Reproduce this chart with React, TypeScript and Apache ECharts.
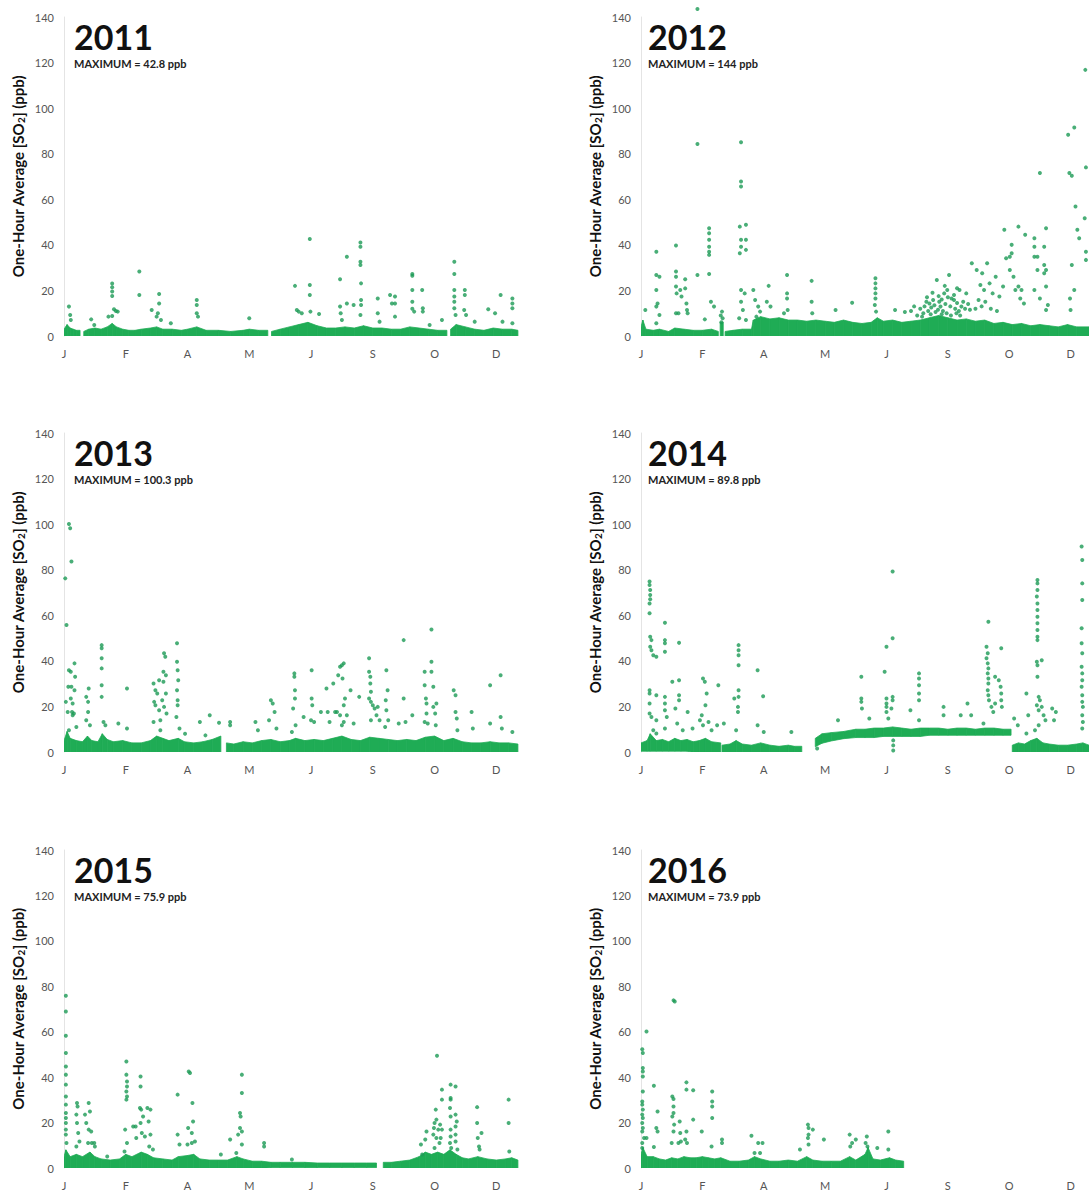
import React, { useEffect, useRef } from "react";
import * as echarts from "echarts";

// ---------- DATA ----------
const xLabels = ["J", "F", "A", "M", "J", "S", "O", "D"];
const years = ["2011", "2012", "2013", "2014", "2015", "2016"];
const maxima = ["42.8 ppb", "144 ppb", "100.3 ppb", "89.8 ppb", "75.9 ppb", "73.9 ppb"];

// x in label steps (J = 0 ... D = 7), y in ppb
const pts2011 = [
  [0.08, 12.9], [0.1, 9.2], [0.11, 7], [0.44, 7.3], [0.49, 4.8],
  [0.78, 23], [0.78, 21.4], [0.78, 19.5], [0.78, 17.6], [0.81, 11.7], [0.84, 11], [0.87, 10.7], [0.78, 8.8], [0.72, 8.5],
  [1.22, 28.3], [1.22, 18], [1.42, 11.4], [1.54, 18.4], [1.54, 14.3], [1.52, 10], [1.5, 8.5], [1.57, 7], [1.73, 5.6],
  [2.15, 15.8], [2.15, 13.6], [2.15, 10], [2.17, 8.5], [3.0, 7.8],
  [3.74, 22], [3.77, 11.4], [3.8, 10.7], [3.85, 10], [3.98, 42.6], [3.98, 22.4], [3.98, 18], [3.99, 10.7], [4.13, 9.7],
  [4.47, 24.9], [4.47, 12.9], [4.48, 10], [4.5, 7], [4.58, 34.8], [4.58, 14.3], [4.69, 13.6],
  [4.8, 41], [4.8, 39.2], [4.8, 32.6], [4.8, 31.2], [4.81, 23.1], [4.81, 15.8], [4.81, 13.6], [4.8, 9.2],
  [5.08, 16.5], [5.08, 10], [5.11, 6.3], [5.28, 18], [5.31, 14.3], [5.36, 17.3], [5.36, 14.3], [5.36, 8.5],
  [5.64, 27.2], [5.64, 26.4], [5.64, 20.2], [5.64, 15], [5.64, 12], [5.67, 10.7], [5.8, 20.2], [5.81, 12.2], [5.81, 10.7],
  [5.92, 4.8], [6.12, 7], [6.32, 32.6], [6.32, 27.2], [6.32, 20.2], [6.32, 17.3], [6.32, 15], [6.32, 12.2], [6.34, 9.2],
  [6.49, 20.2], [6.49, 18], [6.48, 11.4], [6.51, 9.2], [6.65, 6.3], [6.87, 11.7], [6.98, 10], [7.07, 18], [7.1, 6.3],
  [7.26, 16.5], [7.26, 14.3], [7.26, 12.2], [7.26, 5.6]
];
const band2011 = [
  [0, 0, 3], [0.05, 0, 5], [0.1, 0, 3.5], [0.15, 0, 3], [0.2, 0, 2.5], [0.26, 0, 2.5], null,
  [0.32, 0, 2], [0.4, 0, 3], [0.5, 0, 3.5], [0.6, 0, 3], [0.7, 0, 4], [0.78, 0, 5.5], [0.85, 0, 4], [0.95, 0, 3],
  [1.05, 0, 2.5], [1.15, 0, 2.5], [1.25, 0, 3], [1.4, 0, 3.5], [1.5, 0, 4], [1.6, 0, 3], [1.75, 0, 3], [1.9, 0, 2.5],
  [2.0, 0, 3], [2.15, 0, 4], [2.3, 0, 2.5], [2.5, 0, 2.5], [2.7, 0, 2], [2.9, 0, 2.5], [3.0, 0, 3], [3.15, 0, 2.5], [3.3, 0, 2.5], null,
  [3.36, 0, 2], [3.5, 0, 3], [3.65, 0, 4], [3.8, 0, 5], [3.95, 0, 6], [4.1, 0, 4.5], [4.25, 0, 3.5], [4.4, 0, 3.5],
  [4.55, 0, 4], [4.7, 0, 3.5], [4.85, 0, 4.5], [5.0, 0, 3.5], [5.15, 0, 3.5], [5.3, 0, 3], [5.45, 0, 3], [5.6, 0, 4],
  [5.75, 0, 3.5], [5.9, 0, 3], [6.05, 0, 2.5], [6.2, 0, 2.5], null,
  [6.26, 0, 3], [6.35, 0, 5], [6.5, 0, 4], [6.65, 0, 3], [6.8, 0, 2.5], [6.95, 0, 3.5], [7.1, 0, 3], [7.25, 0, 3], [7.35, 0, 2.5]
];

const pts2012 = [
  [0.92, 143.5], [0.92, 84.3],
  [1.63, 85], [1.63, 67.8], [1.63, 65.6], [1.61, 48], [1.71, 48.8], [1.63, 42.2], [1.71, 42.2], [1.63, 39.2], [1.71, 37.8],
  [1.61, 36.3], [1.63, 20.2], [1.69, 18.7], [1.63, 15], [1.66, 11.4], [1.71, 7], [1.6, 7.8],
  [0.25, 37], [0.25, 26.8], [0.3, 26], [0.25, 20.2], [0.27, 14.3], [0.25, 12.9], [0.3, 9.2], [0.25, 5.6], [0.07, 11.4],
  [0.57, 39.7], [0.57, 28.3], [0.57, 26], [0.57, 21.7], [0.58, 18.7], [0.64, 20.2], [0.66, 17.3], [0.57, 10], [0.61, 10],
  [0.72, 24.9], [0.72, 20.9], [0.74, 14.3], [0.75, 11.4], [0.76, 10], [0.92, 26.8],
  [1.11, 47.3], [1.11, 45.1], [1.11, 42.2], [1.11, 39.2], [1.11, 37], [1.11, 35.6], [1.11, 27.2], [1.14, 15], [1.19, 12.9], [1.04, 7.3],
  [1.32, 10.7], [1.33, 7.8], [1.3, 9], [1.31, 6],
  [1.83, 20.2], [1.86, 15.8], [1.91, 12.9], [1.94, 10.7], [1.88, 8.5],
  [2.08, 22], [2.05, 15], [2.11, 12.9], [2.38, 26.8], [2.38, 18.7], [2.38, 16.5], [2.39, 11.4], [2.33, 10],
  [2.78, 24.2], [2.78, 15], [2.79, 10], [3.17, 11.4], [3.44, 14.6],
  [3.82, 25.3], [3.82, 23.1], [3.82, 20.9], [3.82, 18.7], [3.82, 16.5], [3.81, 13.6], [3.83, 10.7], [4.14, 11.4],
  [4.6, 10], [4.7, 14.3], [4.82, 24.6], [4.76, 15.8], [4.88, 12.9], [4.94, 18.7], [5.02, 26.8], [4.99, 20.2], [5.1, 15.8],
  [5.19, 20.2], [4.65, 15], [5.22, 12.9], [5.3, 18.7], [4.55, 12], [4.62, 13], [4.68, 11], [4.73, 12.5], [4.78, 13.5],
  [4.84, 11.5], [4.86, 15], [4.9, 16], [4.92, 11], [4.96, 14], [5.0, 17], [5.04, 13], [5.06, 16.5], [5.12, 12], [5.15, 14.5],
  [5.18, 11], [5.25, 15], [5.28, 12], [5.33, 14], [5.36, 11.5], [4.4, 11], [4.45, 13], [4.3, 10.5],
  [4.5, 9], [4.58, 8.5], [4.72, 9.5], [4.8, 10.5], [4.9, 9.5], [4.98, 10], [5.05, 9], [5.14, 10], [5.2, 9],
  [4.66, 17], [4.85, 17.5], [5.1, 18], [4.75, 19], [4.95, 22], [5.15, 21],
  [5.39, 31.9], [5.47, 29], [5.53, 22.4], [5.56, 27.5], [5.64, 31.9], [5.59, 20.2], [5.68, 23.1], [5.73, 18.7], [5.78, 26],
  [5.84, 17.3], [5.5, 15.8], [5.61, 15], [5.45, 12], [5.55, 13], [5.7, 12], [5.8, 11],
  [5.92, 46.6], [5.95, 34.1], [6.01, 34.8], [6.04, 36.3], [6.04, 40], [5.9, 21.7], [6.01, 29], [6.07, 26], [6.1, 20.2],
  [6.15, 21.7], [6.2, 20.2], [6.18, 16.5], [6.24, 14.3], [6.15, 48], [6.26, 44.4],
  [6.41, 42.9], [6.41, 39.2], [6.41, 34.8], [6.46, 29], [6.46, 34.8], [6.41, 20.2], [6.5, 16.5],
  [6.57, 39.2], [6.6, 47.3], [6.57, 31.2], [6.6, 29], [6.57, 27.5], [6.6, 21.7], [6.63, 13.6], [6.6, 11.4], [6.5, 71.5],
  [6.96, 88.3], [7.06, 91.5], [6.98, 71.5], [7.02, 70.3], [7.08, 56.8], [7.11, 46.6], [7.14, 42.9], [7.02, 31.2],
  [7.06, 20.2], [6.99, 16.5], [7.0, 11.4],
  [7.24, 116.8], [7.25, 74], [7.23, 51.7], [7.25, 33.4], [7.25, 37]
];
const band2012 = [
  [0, 0, 4], [0.03, 0, 7], [0.08, 0, 3], [0.2, 0, 2.5], [0.3, 0, 3], [0.45, 0, 2], [0.55, 0, 3.5], [0.7, 0, 3],
  [0.85, 0, 2.5], [1.0, 0, 2.5], [1.15, 0, 3], [1.26, 0, 2], null,
  [1.29, 0, 6], [1.34, 0, 6], null,
  [1.37, 0, 2], [1.5, 0, 2.5], [1.65, 0, 3], [1.8, 0, 3], [1.83, 0, 7], [1.95, 0, 8.5], [2.1, 0, 7.5], [2.25, 0, 8],
  [2.4, 0, 7], [2.55, 0, 7], [2.7, 0, 6.5], [2.85, 0, 7], [3.0, 0, 6.5], [3.15, 0, 6], [3.3, 0, 7], [3.45, 0, 6],
  [3.6, 0, 5.5], [3.75, 0, 6], [3.85, 0, 8], [3.95, 0, 6.5], [4.1, 0, 7], [4.25, 0, 6], [4.4, 0, 6.5], [4.55, 0, 7],
  [4.7, 0, 8], [4.85, 0, 9], [5.0, 0, 8], [5.15, 0, 7], [5.3, 0, 7.5], [5.45, 0, 6.5], [5.6, 0, 7], [5.75, 0, 5.5],
  [5.9, 0, 6], [6.05, 0, 5], [6.2, 0, 5.5], [6.35, 0, 4.5], [6.5, 0, 5], [6.65, 0, 4.5], [6.8, 0, 4], [6.95, 0, 5],
  [7.1, 0, 4], [7.3, 0, 4]
];

const pts2013 = [
  [0.02, 76.2], [0.04, 55.7], [0.08, 100.1], [0.1, 98.2], [0.12, 83.6], [0.03, 22], [0.06, 17.6], [0.07, 28.6],
  [0.08, 35.9], [0.11, 35.2], [0.12, 28.6], [0.11, 23.5], [0.13, 17.6], [0.14, 16.1], [0.16, 16.9], [0.08, 9.5],
  [0.17, 38.9], [0.18, 33], [0.17, 27.1], [0.14, 21.3], [0.2, 11],
  [0.36, 24.2], [0.39, 17.6], [0.4, 27.9], [0.39, 22], [0.36, 13.9], [0.42, 11.7],
  [0.61, 46.9], [0.61, 45.5], [0.61, 41.1], [0.61, 36.7], [0.61, 29.3], [0.61, 24.2], [0.64, 13.2], [0.67, 11.7],
  [0.88, 12.5], [1.02, 27.9], [1.02, 10.3],
  [1.45, 30.1], [1.48, 27.1], [1.51, 25.7], [1.46, 22], [1.48, 20.5], [1.54, 18.3], [1.56, 13.9], [1.45, 13.2], [1.59, 22.7],
  [1.62, 19.8], [1.62, 43.3], [1.64, 41.8], [1.61, 35.2], [1.65, 33.7], [1.61, 30.8], [1.65, 25.7], [1.66, 16.9], [1.56, 9.5], [1.54, 31.5],
  [1.83, 47.7], [1.83, 39.6], [1.84, 35.9], [1.85, 31.5], [1.83, 27.1], [1.84, 22.7], [1.84, 20.5], [1.82, 15.4], [1.87, 10.3],
  [1.96, 8], [2.2, 13.2], [2.36, 16.1], [2.29, 7.3], [2.51, 12.8], [2.69, 13.2], [2.69, 11.7], [3.1, 13.2], [3.14, 9.5],
  [3.35, 22.7], [3.38, 21.3], [3.41, 17.6], [3.32, 13.9], [3.44, 10.3],
  [3.73, 34.5], [3.73, 33], [3.74, 27.1], [3.74, 23.5], [3.71, 19.1], [3.75, 11.7], [3.69, 8.8], [3.88, 15.4],
  [4.01, 35.9], [4.01, 23.5], [4.02, 20.5], [4.0, 13.9], [4.05, 13.2], [4.16, 17.6], [4.25, 27.9], [4.27, 17.6], [4.3, 13.2],
  [4.36, 30.1], [4.39, 17.6], [4.44, 33.7], [4.42, 17.6], [4.47, 37.4], [4.5, 38.1], [4.51, 32.3], [4.53, 38.9],
  [4.47, 16.1], [4.53, 13.2], [4.55, 23.5], [4.53, 20.5], [4.5, 11.7], [4.58, 16.1], [4.64, 27.1], [4.69, 12.5], [4.78, 24.2],
  [4.94, 41.1], [4.94, 35.2], [4.96, 33], [4.96, 30.1], [4.97, 26.4], [4.94, 23.5], [4.97, 22], [5.0, 20.5], [5.03, 19.1],
  [5.06, 16.1], [5.08, 19.8], [5.11, 13.9], [4.97, 13.9],
  [5.22, 35.9], [5.24, 27.1], [5.21, 22.7], [5.22, 18.3], [5.25, 13.9], [5.2, 11], [5.5, 49.1], [5.5, 23.5], [5.53, 13.2],
  [5.64, 16.1], [5.42, 12.5],
  [5.84, 35.2], [5.84, 29.3], [5.86, 23.5], [5.87, 21.3], [5.87, 16.9], [5.84, 13.2], [5.89, 12.5],
  [5.95, 53.8], [5.95, 39.6], [5.95, 35.2], [5.98, 28.6], [5.98, 19.8], [6.01, 16.9], [6.03, 21.3], [6.02, 11.7],
  [6.31, 27.1], [6.34, 24.9], [6.34, 17.6], [6.36, 14.7], [6.37, 9.5], [6.6, 17.6], [6.62, 10.3], [6.9, 29.3], [6.9, 12.5],
  [7.07, 33.7], [7.07, 15.4], [7.09, 10.3], [7.26, 8.8]
];
const band2013 = [
  [0, 0, 5], [0.05, 0, 9], [0.1, 0, 6], [0.2, 0, 5], [0.3, 0, 4.5], [0.38, 0, 7], [0.45, 0, 5], [0.55, 0, 4.5],
  [0.62, 0, 8], [0.7, 0, 5.5], [0.8, 0, 4.5], [0.95, 0, 5], [1.1, 0, 4], [1.25, 0, 4], [1.4, 0, 5], [1.5, 0, 7],
  [1.6, 0, 6], [1.7, 0, 5], [1.85, 0, 6], [1.95, 0, 4.5], [2.1, 0, 4], [2.25, 0, 4.5], [2.4, 0, 5.5], [2.54, 0, 7], null,
  [2.63, 0, 4], [2.75, 0, 3.5], [2.9, 0, 4.5], [3.05, 0, 4], [3.2, 0, 5], [3.35, 0, 5.5], [3.5, 0, 4.5], [3.65, 0, 5],
  [3.75, 0, 6], [3.9, 0, 5], [4.05, 0, 5.5], [4.2, 0, 5], [4.35, 0, 6], [4.5, 0, 7], [4.65, 0, 5.5], [4.8, 0, 5],
  [4.95, 0, 6.5], [5.1, 0, 6], [5.25, 0, 5.5], [5.4, 0, 5], [5.55, 0, 5.5], [5.7, 0, 5], [5.85, 0, 6.5], [6.0, 0, 7],
  [6.15, 0, 5], [6.3, 0, 6], [6.45, 0, 4.5], [6.6, 0, 4], [6.75, 0, 4], [6.9, 0, 4.5], [7.05, 0, 4], [7.2, 0, 4], [7.35, 0, 3.5]
];

const pts2014 = [
  [0.14, 74.8], [0.14, 73.3], [0.15, 71.1], [0.15, 68.9], [0.15, 67], [0.14, 65.2], [0.14, 60.9], [0.15, 50.6], [0.17, 49.1],
  [0.15, 46.2], [0.17, 44.7], [0.2, 42.5], [0.25, 41.8], [0.14, 27.1], [0.14, 25.7], [0.25, 24.9], [0.14, 21.3], [0.14, 16.9],
  [0.17, 15.4], [0.25, 13.9], [0.2, 9.5], [0.25, 8.1],
  [0.39, 56.7], [0.39, 49.1], [0.39, 47.7], [0.39, 44], [0.39, 24.2], [0.39, 21.3], [0.39, 18.3], [0.42, 15.4], [0.39, 10.3],
  [0.62, 47.9], [0.51, 30.8], [0.62, 31.5], [0.62, 24.9], [0.62, 22.7], [0.56, 19.1], [0.59, 12.5], [0.68, 9.5], [0.76, 17.6], [0.84, 10.3],
  [1.01, 32.3], [1.04, 30.8], [1.07, 25.7], [1.05, 20.5], [0.99, 16.1], [0.96, 13.9], [1.01, 11.7], [1.1, 13.2], [1.15, 9.5],
  [1.26, 29.3], [1.24, 11.7], [1.35, 12.5],
  [1.59, 46.9], [1.59, 44.7], [1.59, 42.5], [1.59, 38.1], [1.59, 27.1], [1.59, 24.2], [1.58, 19.8], [1.58, 17.6], [1.52, 23.5], [1.55, 9.5],
  [1.9, 35.9], [1.99, 24.5], [1.9, 11.7], [2.0, 8.8], [2.45, 8.8], [2.87, 1.5], [3.21, 13.9],
  [3.59, 33], [3.59, 23.5], [3.59, 22], [3.6, 19.1], [3.72, 14.7],
  [3.97, 35.2], [4.0, 46.2], [4.0, 23.5], [4.0, 21.3], [4.0, 19.8], [4.0, 17.6], [4.03, 14.7],
  [4.1, 79.2], [4.1, 49.9], [4.1, 24.2], [4.1, 22.7], [4.08, 19.1], [4.11, 5.1], [4.11, 2.9], [4.11, 0.7],
  [4.39, 18.3], [4.53, 34.5], [4.53, 32.3], [4.53, 29.3], [4.53, 25.7], [4.53, 22.7], [4.53, 13.9],
  [4.93, 19.8], [4.93, 16.1], [5.21, 16.1], [5.32, 21.3], [5.38, 16.1],
  [5.66, 57.2], [5.63, 46.2], [5.65, 43.3], [5.63, 41.1], [5.65, 38.9], [5.66, 36.7], [5.65, 34.5], [5.66, 32.3], [5.66, 30.1],
  [5.65, 27.1], [5.66, 24.9], [5.67, 22.7], [5.71, 19.8], [5.74, 17.6], [5.77, 33], [5.83, 31.5], [5.87, 45.5], [5.86, 28.6],
  [5.87, 25.7], [5.87, 22.7], [5.88, 19.8], [5.58, 12.5], [5.77, 21.3],
  [6.08, 14.7], [6.14, 11.7], [6.28, 25.7], [6.31, 16.1], [6.28, 8.1],
  [6.46, 75.5], [6.46, 74], [6.46, 71.1], [6.45, 68.2], [6.46, 65.2], [6.46, 62.3], [6.46, 59.4], [6.46, 56.5], [6.46, 53.5],
  [6.46, 50.6], [6.46, 49.1], [6.45, 39.6], [6.53, 40.3], [6.46, 38.1], [6.46, 33], [6.48, 24.2], [6.5, 22.7], [6.45, 20.5],
  [6.48, 18.3], [6.53, 19.8], [6.56, 16.1], [6.59, 13.9], [6.48, 11.7], [6.42, 9.5],
  [6.7, 19.1], [6.76, 17.6], [6.73, 13.9],
  [7.18, 90.2], [7.19, 84.3], [7.19, 74], [7.19, 66.7], [7.18, 54.3], [7.18, 47.7], [7.19, 43.3], [7.18, 37.4], [7.19, 34.5],
  [7.19, 31.5], [7.18, 28.6], [7.19, 24.9], [7.19, 22], [7.2, 19.8], [7.19, 16.1], [7.2, 13.2], [7.19, 10.3]
];
const band2014 = [
  [0, 1, 4], [0.1, 1, 5], [0.15, 1, 8], [0.25, 1, 5], [0.35, 1, 5.5], [0.45, 1, 4.5], [0.55, 1, 6], [0.65, 1, 5],
  [0.75, 1, 5.5], [0.85, 0.5, 4.5], [0.95, 0.5, 5], [1.05, 0.5, 6], [1.15, 0.5, 4.5], [1.3, 0.5, 4], null,
  [1.32, 0, 3], [1.45, 0, 3.5], [1.55, 0, 5], [1.65, 0, 3.5], [1.8, 0, 3], [1.95, 0, 4], [2.1, 0, 3], [2.25, 0, 2.5],
  [2.4, 0, 3], [2.5, 0, 2.5], [2.62, 0, 2.5], null,
  [2.84, 3, 6], [2.95, 4.5, 8], [3.1, 5.5, 8.5], [3.3, 6.5, 9], [3.5, 7, 10], [3.65, 7, 10], [3.8, 7, 10.5],
  [3.95, 7.5, 10.5], [4.1, 7.5, 11], [4.25, 7.5, 10.5], [4.4, 7.5, 10], [4.55, 7.5, 10.5], [4.7, 8, 10.5], [4.85, 8, 10.5],
  [5.0, 8, 10], [5.15, 8, 10.5], [5.3, 8, 10.5], [5.45, 8, 10], [5.6, 8, 10.5], [5.75, 8, 10.5], [5.9, 8, 10], [6.03, 8, 10], null,
  [6.05, 0, 3], [6.15, 0, 4], [6.25, 0, 3.5], [6.35, 0, 5], [6.45, 0, 6], [6.55, 0, 4], [6.65, 0, 3.5], [6.8, 0, 3],
  [6.95, 0, 3], [7.1, 0, 3.5], [7.2, 0, 4], [7.3, 0, 3]
];

const pts2015 = [
  [0.03, 75.8], [0.03, 68.9], [0.03, 58.2], [0.03, 50.6], [0.03, 44.7], [0.03, 41.1], [0.03, 36.7], [0.03, 31.5], [0.03, 27.9],
  [0.03, 24.2], [0.03, 22], [0.03, 19.8], [0.03, 16.9], [0.03, 14.7], [0.04, 11],
  [0.21, 28.6], [0.22, 27.1], [0.2, 23.5], [0.21, 19.8], [0.23, 15.4], [0.25, 11.7], [0.2, 9.5],
  [0.34, 23.5], [0.36, 19.8], [0.39, 11], [0.4, 28.6], [0.42, 24.9], [0.4, 16.9], [0.44, 16.1], [0.45, 11], [0.49, 11], [0.5, 9.5], [0.7, 5.1],
  [1.01, 46.9], [1.01, 41.1], [1.02, 38.1], [1.02, 35.9], [1.01, 33.7], [1.02, 31.5], [1.01, 30.1], [0.99, 16.9], [1.02, 11], [0.98, 7.3],
  [1.12, 18.3], [1.16, 18.3], [1.17, 13.2], [1.24, 40.3], [1.24, 35.9], [1.23, 26.4], [1.25, 25.7], [1.28, 22.7], [1.24, 19.8],
  [1.26, 15.4], [1.31, 13.9], [1.35, 26.4], [1.4, 25.7], [1.37, 20.5], [1.4, 14.7], [1.38, 9.5], [1.44, 8.1],
  [1.84, 32.3], [1.84, 14.7], [1.87, 10.3], [2.02, 42.5], [2.04, 41.8], [2.08, 28.6], [2.01, 17.6], [2.07, 15.4], [2.09, 20.5],
  [2.12, 11.7], [2.07, 11], [2.0, 10.3], [2.54, 5.9], [2.69, 12.5],
  [2.88, 41.1], [2.88, 33], [2.85, 24.2], [2.86, 22.7], [2.85, 17.6], [2.88, 16.1], [2.82, 14.7], [2.88, 10.3], [2.79, 6.6],
  [3.24, 11], [3.24, 9.5], [3.69, 3.7],
  [5.85, 12.5], [5.87, 16.1], [5.78, 10.3], [5.8, 5.9],
  [6.04, 49.4], [6.02, 25.7], [6.03, 21.3], [6.0, 19.8], [5.99, 17.6], [6.06, 16.9], [6.09, 19.1], [5.98, 14.7], [6.03, 13.2], [6.0, 8.8],
  [6.12, 34.5], [6.12, 30.1], [6.12, 16.9], [6.1, 13.2], [6.08, 11],
  [6.26, 36.7], [6.26, 30.8], [6.26, 30.1], [6.25, 26.4], [6.26, 22.7], [6.26, 16.9], [6.26, 13.9], [6.25, 11], [6.27, 8.8],
  [6.34, 35.9], [6.34, 23.5], [6.36, 20.5], [6.34, 18.3], [6.34, 14.7], [6.34, 11.7], [6.37, 8.1],
  [6.69, 26.8], [6.69, 19.8], [6.7, 13.2], [6.72, 9.5], [6.76, 15.4], [6.73, 8.1],
  [7.2, 30.1], [7.2, 19.8], [7.21, 7.3]
];
const band2015 = [
  [0, 0, 5], [0.03, 0, 8], [0.1, 0, 5], [0.2, 0, 6], [0.3, 0, 5], [0.42, 0, 7], [0.5, 0, 5], [0.6, 0, 4], [0.75, 0, 3.5],
  [0.9, 0, 4], [1.0, 0, 6], [1.1, 0, 5], [1.25, 0, 7], [1.35, 0, 6], [1.45, 0, 4.5], [1.6, 0, 4], [1.75, 0, 3.5],
  [1.85, 0, 5], [2.0, 0, 5.5], [2.1, 0, 6], [2.2, 0, 4], [2.35, 0, 3.5], [2.5, 0, 3.5], [2.65, 0, 3.5], [2.8, 0, 5],
  [2.9, 0, 4], [3.05, 0.5, 3], [3.2, 0.5, 3], [3.35, 0.8, 2.5], [3.5, 0.8, 2.5], [3.7, 0.8, 2.5], [3.9, 0.8, 2.5],
  [4.1, 0.8, 2.2], [4.3, 0.8, 2.2], [4.5, 0.8, 2.2], [4.7, 0.8, 2.2], [4.9, 0.8, 2.2], [5.06, 0.8, 2.2], null,
  [5.17, 0, 2.5], [5.3, 0, 2.5], [5.45, 0, 3], [5.6, 0, 3.5], [5.75, 0, 5], [5.85, 0, 7], [5.95, 0, 6], [6.05, 0, 7],
  [6.15, 0, 6], [6.25, 0, 8], [6.35, 0, 6], [6.45, 0, 4.5], [6.55, 0, 4], [6.7, 0, 5], [6.85, 0, 4], [7.0, 0, 3.5],
  [7.15, 0, 4], [7.25, 0, 4.5], [7.35, 0, 3.5]
];

const pts2016 = [
  [0.02, 52.3], [0.03, 50.6], [0.03, 44], [0.03, 42.5], [0.03, 40.3], [0.03, 33.7], [0.02, 29.3], [0.02, 27.9], [0.03, 25.7],
  [0.02, 23.5], [0.03, 22], [0.02, 19.8], [0.03, 17.6], [0.02, 16.1], [0.05, 13.2], [0.02, 11], [0.02, 8.8],
  [0.09, 60.1], [0.09, 13.2], [0.21, 36.2], [0.21, 9.2], [0.27, 24.9], [0.25, 17.6], [0.27, 16.1],
  [0.53, 73.8], [0.55, 73.3], [0.51, 31.5], [0.53, 30.4], [0.53, 27.1], [0.53, 24.2], [0.51, 22.7], [0.54, 19.1], [0.53, 16.1],
  [0.5, 11], [0.63, 20.5], [0.61, 11], [0.65, 11.7], [0.64, 15.4],
  [0.74, 37.7], [0.74, 34.5], [0.74, 16.1], [0.72, 12.5], [0.75, 11], [0.85, 34.2], [0.85, 21.3], [0.99, 16.1],
  [1.16, 33.7], [1.16, 29.3], [1.16, 27.1], [1.16, 22], [1.15, 9.5], [1.32, 12.5], [1.32, 11],
  [1.8, 14.2], [1.91, 11], [1.98, 11], [1.85, 6.6], [1.94, 6.6], [2.59, 8.1],
  [2.72, 19.1], [2.73, 17.6], [2.73, 14.7], [2.72, 13.2], [2.73, 10.3], [2.8, 16.9], [2.98, 12.5],
  [3.4, 14.7], [3.41, 9.5], [3.44, 11], [3.5, 12.5], [3.68, 13.9], [3.66, 11], [3.69, 9.5], [3.85, 8.8], [4.03, 16.1], [4.03, 8.1]
];
const band2016 = [
  [0, 0, 6], [0.03, 0, 9], [0.1, 0, 5], [0.2, 0, 5], [0.3, 0, 4], [0.4, 0, 3.5], [0.5, 0, 4.5], [0.6, 0, 4], [0.7, 0, 5],
  [0.8, 0, 4.5], [0.9, 0, 4.5], [1.0, 0, 5], [1.1, 0, 4.5], [1.2, 0, 4], [1.3, 0, 4.5], [1.45, 0, 3], [1.6, 0, 3],
  [1.75, 0, 3.5], [1.85, 0, 5], [1.95, 0, 4], [2.1, 0, 3], [2.25, 0, 3], [2.4, 0, 3.5], [2.55, 0, 3], [2.7, 0, 5],
  [2.8, 0, 3.5], [2.95, 0, 3], [3.1, 0, 3], [3.25, 0, 3], [3.4, 0, 5], [3.5, 0, 3.5], [3.65, 0, 6], [3.7, 0, 9],
  [3.78, 0, 4], [3.9, 0, 3.5], [4.05, 0, 4.5], [4.15, 0, 3.5], [4.28, 0, 3]
];

const allPoints = [pts2011, pts2012, pts2013, pts2014, pts2015, pts2016];
const allBands = [band2011, band2012, band2013, band2014, band2015, band2016];

// ---------- LAYOUT ----------
const FONT = "Lato, 'Open Sans', 'Liberation Sans', sans-serif";
const rowTops = [17, 433, 850];
const rowHeights = [319, 319, 318];
const colLeft = [64, 641];
const colWidth = [457, 448];
const colMax = [7.4, 7.3];
const titleX = [74, 648];
const nameGap = [38, 38];
const BAND = "#1fac55";
const DOT = "#1b9a55";

// consecutive band samples -> quads [x0, lo0, hi0, x1, lo1, hi1]
function bandQuads(band: any[]) {
  const out: number[][] = [];
  for (let k = 0; k + 1 < band.length; k++) {
    const a = band[k];
    const b = band[k + 1];
    if (a && b) out.push([a[0], a[1], a[2], b[0], b[1], b[2]]);
  }
  return out;
}

export default function App() {
  const ref = useRef<HTMLDivElement>(null);

  useEffect(() => {
    if (!ref.current) return;
    const chart = echarts.init(ref.current, null, { renderer: "svg" });

    const grids: any[] = [];
    const xAxes: any[] = [];
    const yAxes: any[] = [];
    const series: any[] = [];
    const graphics: any[] = [];

    years.forEach((yr, i) => {
      const col = i % 2;
      const row = Math.floor(i / 2);
      grids.push({
        left: colLeft[col],
        top: rowTops[row],
        width: colWidth[col],
        height: rowHeights[row],
        containLabel: false
      });
      xAxes.push({
        type: "value",
        gridIndex: i,
        min: 0,
        max: colMax[col],
        interval: 1,
        axisLine: { show: false },
        axisTick: { show: false },
        splitLine: { show: false },
        axisLabel: {
          showMaxLabel: false,
          margin: 12,
          color: "#555",
          fontSize: 11,
          fontFamily: FONT,
          formatter: (v: number) => (Number.isInteger(v) && xLabels[v] ? xLabels[v] : "")
        }
      });
      yAxes.push({
        type: "value",
        gridIndex: i,
        min: 0,
        max: 140,
        interval: 20,
        axisLine: { show: true, lineStyle: { color: "#e4e4e4", width: 1 } },
        axisTick: { show: false },
        splitLine: { show: false },
        axisLabel: { margin: 10, color: "#555", fontSize: 11, fontFamily: FONT },
        name: "{a|One-Hour Average [SO}{b|2}{a|] (ppb)}",
        nameLocation: "middle",
        nameGap: nameGap[col],
        nameTextStyle: {
          rich: {
            a: { fontSize: 15, fontWeight: "bold", color: "#111", fontFamily: FONT },
            b: { fontSize: 10, fontWeight: "bold", color: "#111", fontFamily: FONT, verticalAlign: "bottom", padding: [6, 0, 0, 0] }
          }
        }
      });

      series.push({
        type: "custom",
        xAxisIndex: i,
        yAxisIndex: i,
        data: bandQuads(allBands[i]),
        silent: true,
        clip: true,
        z: 2,
        renderItem: (params: any, api: any) => {
          const p0l = api.coord([api.value(0), api.value(1)]);
          const p0h = api.coord([api.value(0), api.value(2)]);
          const p1l = api.coord([api.value(3), api.value(4)]);
          const p1h = api.coord([api.value(3), api.value(5)]);
          return {
            type: "polygon",
            shape: { points: [[p0l[0], p0l[1] + 1.5], [p1l[0], p1l[1] + 1.5], p1h, p0h] },
            style: { fill: BAND, stroke: BAND, lineWidth: 0.8 }
          };
        }
      });
      series.push({
        type: "scatter",
        xAxisIndex: i,
        yAxisIndex: i,
        data: allPoints[i],
        symbol: "circle",
        symbolSize: 4,
        clip: false,
        silent: true,
        itemStyle: { color: DOT },
        z: 3
      });

      graphics.push({
        type: "text",
        left: titleX[col],
        top: rowTops[row] + 2,
        style: { text: yr, font: `bold 34px ${FONT}`, fill: "#111" }
      });
      graphics.push({
        type: "text",
        left: titleX[col],
        top: rowTops[row] + 41,
        style: { text: "MAXIMUM = " + maxima[i], font: `bold 11px ${FONT}`, fill: "#222" }
      });
    });

    chart.setOption({
      animation: false,
      backgroundColor: "#ffffff",
      grid: grids,
      xAxis: xAxes,
      yAxis: yAxes,
      series,
      graphic: graphics
    });

    return () => chart.dispose();
  }, []);

  return (
    <div
      ref={ref}
      style={{ position: "fixed", left: 0, top: 0, width: 1089, height: 1195, background: "#fff" }}
    />
  );
}
